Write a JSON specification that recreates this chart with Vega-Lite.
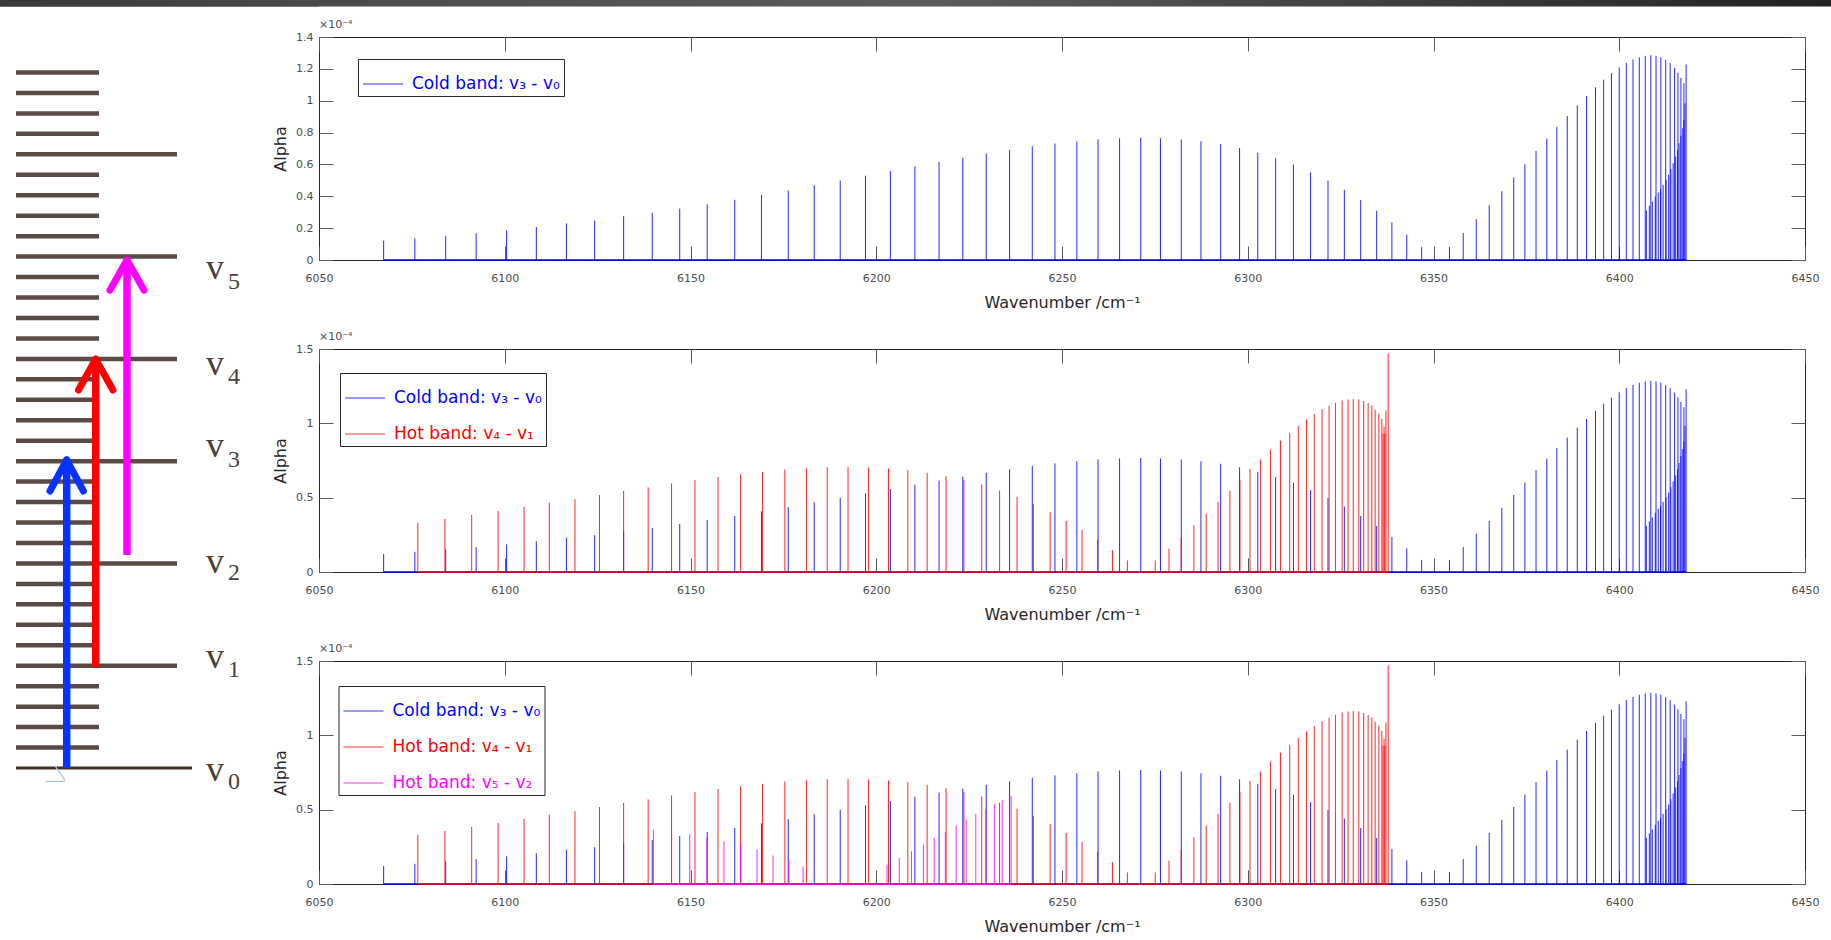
{
  "$schema": "https://vega.github.io/schema/vega-lite/v6.json",
  "padding": 0,
  "background": "white",
  "bounds": "flush",
  "spacing": 0,
  "config": {
    "view": {"stroke": "#262626", "strokeWidth": 1},
    "axis": {"grid": false, "domain": false, "tickSize": -14, "tickColor": "#5a5a5a", "tickWidth": 1, "labelFont": "DejaVu Sans", "labelFontSize": 11, "labelColor": "#4d4d4d", "labelFlush": false, "labelOverlap": false, "titleFont": "DejaVu Sans", "titleFontSize": 16, "titleFontWeight": "normal", "titleColor": "#262626"},
    "legend": {"symbolType": "stroke", "symbolSize": 1600, "symbolStrokeWidth": 1.2, "symbolOpacity": 0.8, "labelFont": "DejaVu Sans", "labelFontSize": 17, "labelOffset": 8, "labelLimit": 300, "padding": 4, "rowPadding": 7, "strokeColor": "#262626", "fillColor": "white"},
    "title": {"font": "DejaVu Sans", "fontSize": 11, "fontWeight": "normal", "color": "#4d4d4d", "anchor": "start", "frame": "group", "offset": 1}
  },
  "resolve": {"scale": {"color": "independent"}, "legend": {"color": "independent"}},
  "datasets": {
    "levels": [
      {"j": 0, "x1": 16, "x2": 192}, {"j": 1, "x1": 16, "x2": 99}, {"j": 2, "x1": 16, "x2": 99}, {"j": 3, "x1": 16, "x2": 99}, {"j": 4, "x1": 16, "x2": 99},
      {"j": 5, "x1": 16, "x2": 177}, {"j": 6, "x1": 16, "x2": 99}, {"j": 7, "x1": 16, "x2": 99}, {"j": 8, "x1": 16, "x2": 99}, {"j": 9, "x1": 16, "x2": 99},
      {"j": 10, "x1": 16, "x2": 177}, {"j": 11, "x1": 16, "x2": 99}, {"j": 12, "x1": 16, "x2": 99}, {"j": 13, "x1": 16, "x2": 99}, {"j": 14, "x1": 16, "x2": 99},
      {"j": 15, "x1": 16, "x2": 177}, {"j": 16, "x1": 16, "x2": 99}, {"j": 17, "x1": 16, "x2": 99}, {"j": 18, "x1": 16, "x2": 99}, {"j": 19, "x1": 16, "x2": 99},
      {"j": 20, "x1": 16, "x2": 177}, {"j": 21, "x1": 16, "x2": 99}, {"j": 22, "x1": 16, "x2": 99}, {"j": 23, "x1": 16, "x2": 99}, {"j": 24, "x1": 16, "x2": 99},
      {"j": 25, "x1": 16, "x2": 177}, {"j": 26, "x1": 16, "x2": 99}, {"j": 27, "x1": 16, "x2": 99}, {"j": 28, "x1": 16, "x2": 99}, {"j": 29, "x1": 16, "x2": 99},
      {"j": 30, "x1": 16, "x2": 177}, {"j": 31, "x1": 16, "x2": 99}, {"j": 32, "x1": 16, "x2": 99}, {"j": 33, "x1": 16, "x2": 99}, {"j": 34, "x1": 16, "x2": 99}
    ],
    "arrows": [
      {"t": "v3-v0", "x": 66.7, "from": 0, "to": 14.95},
      {"t": "v4-v1", "x": 95.7, "from": 4.93, "to": 19.9},
      {"t": "v5-v2", "x": 127, "from": 10.41, "to": 24.75}
    ],
    "heads": [
      {"t": "v3-v0", "x": 50, "y": 13.54, "x2": 66.7, "y2": 15.06},
      {"t": "v3-v0", "x": 83.4, "y": 13.54, "x2": 66.7, "y2": 15.06},
      {"t": "v4-v1", "x": 78.5, "y": 18.48, "x2": 95.7, "y2": 19.99},
      {"t": "v4-v1", "x": 112.9, "y": 18.48, "x2": 95.7, "y2": 19.99},
      {"t": "v5-v2", "x": 110, "y": 23.36, "x2": 127, "y2": 24.83},
      {"t": "v5-v2", "x": 144, "y": 23.36, "x2": 127, "y2": 24.83}
    ],
    "vlabels": [
      {"n": "5", "yv": 23.91, "ys": 23.42},
      {"n": "4", "yv": 19.21, "ys": 18.77},
      {"n": "3", "yv": 15.2, "ys": 14.71},
      {"n": "2", "yv": 9.53, "ys": 9.19},
      {"n": "1", "yv": 4.89, "ys": 4.45},
      {"n": "0", "yv": -0.64, "ys": -1.03}
    ],
    "marker": [
      {"x": 55, "y": 0.1, "x2": 65, "y2": -0.59},
      {"x": 45.7, "y": -0.66, "x2": 65, "y2": -0.66}
    ],
    "spans": [
      {"band": "cold", "from": 6067.4, "to": 6418.0},
      {"band": "hot41", "from": 6076.6, "to": 6337.8},
      {"band": "hot52", "from": 6140.0, "to": 6236.3}
    ],
    "sticks": [
      {"band": "cold", "wn": 6067.4, "alpha": 0.121}, {"band": "cold", "wn": 6075.8, "alpha": 0.136}, {"band": "cold", "wn": 6084.1, "alpha": 0.151}, {"band": "cold", "wn": 6092.3, "alpha": 0.167},
      {"band": "cold", "wn": 6100.5, "alpha": 0.186}, {"band": "cold", "wn": 6108.5, "alpha": 0.207}, {"band": "cold", "wn": 6116.6, "alpha": 0.23}, {"band": "cold", "wn": 6124.2, "alpha": 0.248},
      {"band": "cold", "wn": 6132.0, "alpha": 0.275}, {"band": "cold", "wn": 6139.7, "alpha": 0.297}, {"band": "cold", "wn": 6147.1, "alpha": 0.322}, {"band": "cold", "wn": 6154.5, "alpha": 0.35},
      {"band": "cold", "wn": 6161.9, "alpha": 0.378}, {"band": "cold", "wn": 6169.1, "alpha": 0.408}, {"band": "cold", "wn": 6176.3, "alpha": 0.437}, {"band": "cold", "wn": 6183.3, "alpha": 0.469},
      {"band": "cold", "wn": 6190.3, "alpha": 0.499}, {"band": "cold", "wn": 6197.1, "alpha": 0.529}, {"band": "cold", "wn": 6203.8, "alpha": 0.558}, {"band": "cold", "wn": 6210.4, "alpha": 0.587},
      {"band": "cold", "wn": 6216.9, "alpha": 0.615}, {"band": "cold", "wn": 6223.3, "alpha": 0.642}, {"band": "cold", "wn": 6229.6, "alpha": 0.668}, {"band": "cold", "wn": 6235.9, "alpha": 0.691},
      {"band": "cold", "wn": 6242.0, "alpha": 0.714}, {"band": "cold", "wn": 6248.1, "alpha": 0.731}, {"band": "cold", "wn": 6254.0, "alpha": 0.745}, {"band": "cold", "wn": 6259.7, "alpha": 0.757},
      {"band": "cold", "wn": 6265.5, "alpha": 0.764}, {"band": "cold", "wn": 6271.2, "alpha": 0.767}, {"band": "cold", "wn": 6276.5, "alpha": 0.764}, {"band": "cold", "wn": 6282.1, "alpha": 0.757},
      {"band": "cold", "wn": 6287.4, "alpha": 0.745}, {"band": "cold", "wn": 6292.7, "alpha": 0.728}, {"band": "cold", "wn": 6297.8, "alpha": 0.704}, {"band": "cold", "wn": 6302.7, "alpha": 0.674},
      {"band": "cold", "wn": 6307.5, "alpha": 0.639}, {"band": "cold", "wn": 6312.3, "alpha": 0.599}, {"band": "cold", "wn": 6316.9, "alpha": 0.55}, {"band": "cold", "wn": 6321.6, "alpha": 0.498},
      {"band": "cold", "wn": 6326.0, "alpha": 0.441}, {"band": "cold", "wn": 6330.4, "alpha": 0.376}, {"band": "cold", "wn": 6334.7, "alpha": 0.309}, {"band": "cold", "wn": 6338.8, "alpha": 0.236},
      {"band": "cold", "wn": 6342.8, "alpha": 0.159}, {"band": "cold", "wn": 6346.8, "alpha": 0.081}, {"band": "cold", "wn": 6354.3, "alpha": 0.081}, {"band": "cold", "wn": 6358.0, "alpha": 0.169},
      {"band": "cold", "wn": 6361.5, "alpha": 0.257}, {"band": "cold", "wn": 6365.0, "alpha": 0.344}, {"band": "cold", "wn": 6368.4, "alpha": 0.432}, {"band": "cold", "wn": 6371.6, "alpha": 0.518},
      {"band": "cold", "wn": 6374.6, "alpha": 0.601}, {"band": "cold", "wn": 6377.6, "alpha": 0.685}, {"band": "cold", "wn": 6380.5, "alpha": 0.762}, {"band": "cold", "wn": 6383.2, "alpha": 0.835},
      {"band": "cold", "wn": 6386.0, "alpha": 0.904}, {"band": "cold", "wn": 6388.7, "alpha": 0.971}, {"band": "cold", "wn": 6391.2, "alpha": 1.029}, {"band": "cold", "wn": 6393.6, "alpha": 1.084},
      {"band": "cold", "wn": 6395.8, "alpha": 1.132}, {"band": "cold", "wn": 6397.9, "alpha": 1.173}, {"band": "cold", "wn": 6400.0, "alpha": 1.209}, {"band": "cold", "wn": 6401.9, "alpha": 1.238},
      {"band": "cold", "wn": 6403.7, "alpha": 1.259}, {"band": "cold", "wn": 6405.4, "alpha": 1.273}, {"band": "cold", "wn": 6407.0, "alpha": 1.282}, {"band": "cold", "wn": 6408.5, "alpha": 1.286},
      {"band": "cold", "wn": 6409.9, "alpha": 1.282}, {"band": "cold", "wn": 6411.2, "alpha": 1.273}, {"band": "cold", "wn": 6412.5, "alpha": 1.257}, {"band": "cold", "wn": 6413.7, "alpha": 1.236},
      {"band": "cold", "wn": 6414.9, "alpha": 1.207}, {"band": "cold", "wn": 6415.8, "alpha": 1.175}, {"band": "cold", "wn": 6416.6, "alpha": 1.144}, {"band": "cold", "wn": 6417.4, "alpha": 1.109},
      {"band": "cold", "wn": 6418.0, "alpha": 1.228},
      {"band": "cold", "wn": 6407.3, "alpha": 0.311}, {"band": "cold", "wn": 6408.1, "alpha": 0.34}, {"band": "cold", "wn": 6408.9, "alpha": 0.367}, {"band": "cold", "wn": 6409.7, "alpha": 0.399},
      {"band": "cold", "wn": 6410.5, "alpha": 0.424}, {"band": "cold", "wn": 6411.1, "alpha": 0.445}, {"band": "cold", "wn": 6411.8, "alpha": 0.472}, {"band": "cold", "wn": 6412.6, "alpha": 0.503},
      {"band": "cold", "wn": 6413.3, "alpha": 0.534}, {"band": "cold", "wn": 6413.9, "alpha": 0.57}, {"band": "cold", "wn": 6414.5, "alpha": 0.608}, {"band": "cold", "wn": 6415.2, "alpha": 0.649},
      {"band": "cold", "wn": 6415.7, "alpha": 0.691}, {"band": "cold", "wn": 6416.1, "alpha": 0.733}, {"band": "cold", "wn": 6416.6, "alpha": 0.779}, {"band": "cold", "wn": 6417.1, "alpha": 0.827},
      {"band": "cold", "wn": 6417.4, "alpha": 0.879}, {"band": "cold", "wn": 6417.7, "alpha": 0.983},
      {"band": "hot41", "wn": 6076.6, "alpha": 0.333}, {"band": "hot41", "wn": 6083.9, "alpha": 0.357}, {"band": "hot41", "wn": 6091.1, "alpha": 0.384}, {"band": "hot41", "wn": 6098.2, "alpha": 0.411},
      {"band": "hot41", "wn": 6105.2, "alpha": 0.438}, {"band": "hot41", "wn": 6112.0, "alpha": 0.467}, {"band": "hot41", "wn": 6118.9, "alpha": 0.491}, {"band": "hot41", "wn": 6125.5, "alpha": 0.518},
      {"band": "hot41", "wn": 6132.0, "alpha": 0.545}, {"band": "hot41", "wn": 6138.6, "alpha": 0.57}, {"band": "hot41", "wn": 6144.9, "alpha": 0.596}, {"band": "hot41", "wn": 6151.2, "alpha": 0.618},
      {"band": "hot41", "wn": 6157.4, "alpha": 0.64}, {"band": "hot41", "wn": 6163.5, "alpha": 0.658}, {"band": "hot41", "wn": 6169.4, "alpha": 0.674}, {"band": "hot41", "wn": 6175.4, "alpha": 0.689},
      {"band": "hot41", "wn": 6181.2, "alpha": 0.697}, {"band": "hot41", "wn": 6186.8, "alpha": 0.705}, {"band": "hot41", "wn": 6192.4, "alpha": 0.705}, {"band": "hot41", "wn": 6197.9, "alpha": 0.703},
      {"band": "hot41", "wn": 6203.3, "alpha": 0.696}, {"band": "hot41", "wn": 6208.5, "alpha": 0.685}, {"band": "hot41", "wn": 6213.7, "alpha": 0.667}, {"band": "hot41", "wn": 6218.8, "alpha": 0.646},
      {"band": "hot41", "wn": 6223.6, "alpha": 0.618}, {"band": "hot41", "wn": 6228.4, "alpha": 0.588}, {"band": "hot41", "wn": 6233.2, "alpha": 0.547}, {"band": "hot41", "wn": 6237.9, "alpha": 0.507},
      {"band": "hot41", "wn": 6242.3, "alpha": 0.458}, {"band": "hot41", "wn": 6246.8, "alpha": 0.402}, {"band": "hot41", "wn": 6251.1, "alpha": 0.344}, {"band": "hot41", "wn": 6255.4, "alpha": 0.283},
      {"band": "hot41", "wn": 6259.6, "alpha": 0.217}, {"band": "hot41", "wn": 6263.6, "alpha": 0.147}, {"band": "hot41", "wn": 6267.6, "alpha": 0.078}, {"band": "hot41", "wn": 6275.1, "alpha": 0.078},
      {"band": "hot41", "wn": 6278.8, "alpha": 0.156}, {"band": "hot41", "wn": 6282.1, "alpha": 0.234}, {"band": "hot41", "wn": 6285.5, "alpha": 0.315}, {"band": "hot41", "wn": 6288.8, "alpha": 0.393},
      {"band": "hot41", "wn": 6292.0, "alpha": 0.471}, {"band": "hot41", "wn": 6295.2, "alpha": 0.547}, {"band": "hot41", "wn": 6297.9, "alpha": 0.621}, {"band": "hot41", "wn": 6300.6, "alpha": 0.694},
      {"band": "hot41", "wn": 6303.4, "alpha": 0.757}, {"band": "hot41", "wn": 6306.1, "alpha": 0.824}, {"band": "hot41", "wn": 6308.8, "alpha": 0.884}, {"band": "hot41", "wn": 6311.3, "alpha": 0.935},
      {"band": "hot41", "wn": 6313.6, "alpha": 0.982}, {"band": "hot41", "wn": 6315.8, "alpha": 1.027}, {"band": "hot41", "wn": 6317.9, "alpha": 1.063}, {"band": "hot41", "wn": 6320.0, "alpha": 1.094},
      {"band": "hot41", "wn": 6321.9, "alpha": 1.118}, {"band": "hot41", "wn": 6323.6, "alpha": 1.138}, {"band": "hot41", "wn": 6325.4, "alpha": 1.154}, {"band": "hot41", "wn": 6327.0, "alpha": 1.161},
      {"band": "hot41", "wn": 6328.4, "alpha": 1.163}, {"band": "hot41", "wn": 6329.9, "alpha": 1.161}, {"band": "hot41", "wn": 6331.2, "alpha": 1.15}, {"band": "hot41", "wn": 6332.4, "alpha": 1.136},
      {"band": "hot41", "wn": 6333.4, "alpha": 1.118}, {"band": "hot41", "wn": 6334.3, "alpha": 1.092}, {"band": "hot41", "wn": 6335.3, "alpha": 1.065}, {"band": "hot41", "wn": 6336.1, "alpha": 1.031},
      {"band": "hot41", "wn": 6336.7, "alpha": 0.975}, {"band": "hot41", "wn": 6336.4, "alpha": 0.93}, {"band": "hot41", "wn": 6336.9, "alpha": 0.93}, {"band": "hot41", "wn": 6337.2, "alpha": 1.087},
      {"band": "hot41", "wn": 6337.8, "alpha": 1.471},
      {"band": "hot52", "wn": 6140.0, "alpha": 0.367}, {"band": "hot52", "wn": 6144.9, "alpha": 0.355}, {"band": "hot52", "wn": 6149.8, "alpha": 0.333}, {"band": "hot52", "wn": 6154.4, "alpha": 0.311},
      {"band": "hot52", "wn": 6159.0, "alpha": 0.288}, {"band": "hot52", "wn": 6163.5, "alpha": 0.259}, {"band": "hot52", "wn": 6167.9, "alpha": 0.23}, {"band": "hot52", "wn": 6172.2, "alpha": 0.192},
      {"band": "hot52", "wn": 6176.5, "alpha": 0.158}, {"band": "hot52", "wn": 6180.3, "alpha": 0.118}, {"band": "hot52", "wn": 6202.9, "alpha": 0.131}, {"band": "hot52", "wn": 6206.2, "alpha": 0.176},
      {"band": "hot52", "wn": 6209.5, "alpha": 0.221}, {"band": "hot52", "wn": 6212.7, "alpha": 0.266}, {"band": "hot52", "wn": 6215.6, "alpha": 0.311}, {"band": "hot52", "wn": 6218.6, "alpha": 0.349},
      {"band": "hot52", "wn": 6221.5, "alpha": 0.394}, {"band": "hot52", "wn": 6224.2, "alpha": 0.432}, {"band": "hot52", "wn": 6226.8, "alpha": 0.472}, {"band": "hot52", "wn": 6229.5, "alpha": 0.506},
      {"band": "hot52", "wn": 6231.8, "alpha": 0.537}, {"band": "hot52", "wn": 6233.9, "alpha": 0.562}, {"band": "hot52", "wn": 6236.3, "alpha": 0.591}
    ]
  },
  "hconcat": [
    {
      "width": 319,
      "height": 940,
      "view": {"stroke": null},
      "layer": [
        {
          "data": {"values": [{}]},
          "mark": {"type": "rect", "color": {"gradient": "linear", "x1": 0, "y1": 0, "x2": 1, "y2": 0, "stops": [{"offset": 0, "color": "#383838"}, {"offset": 1, "color": "#4a4a4a"}]}},
          "encoding": {
            "x": {"datum": 0, "type": "quantitative", "scale": {"domain": [0, 319], "nice": false, "zero": false}, "axis": null},
            "x2": {"datum": 319},
            "y": {"datum": 37.544, "type": "quantitative", "scale": {"domain": [-8.408, 37.544], "nice": false, "zero": false}, "axis": null},
            "y2": {"datum": 37.22}
          }
        },
        {
          "data": {"name": "levels"},
          "transform": [{"filter": "datum.j > 0"}],
          "mark": {"type": "rule", "color": "#5b4a44", "strokeWidth": 4.5},
          "encoding": {
            "x": {"field": "x1", "type": "quantitative"},
            "x2": {"field": "x2"},
            "y": {"field": "j", "type": "quantitative"}
          }
        },
        {
          "data": {"name": "levels"},
          "transform": [{"filter": "datum.j == 0"}],
          "mark": {"type": "rule", "color": "#3f302a", "strokeWidth": 3},
          "encoding": {
            "x": {"field": "x1", "type": "quantitative"},
            "x2": {"field": "x2"},
            "y": {"field": "j", "type": "quantitative"}
          }
        },
        {
          "data": {"name": "arrows"},
          "mark": {"type": "rule", "strokeWidth": 7.5},
          "encoding": {
            "x": {"field": "x", "type": "quantitative"},
            "y": {"field": "from", "type": "quantitative"},
            "y2": {"field": "to"},
            "color": {"field": "t", "type": "nominal", "scale": {"domain": ["v3-v0", "v4-v1", "v5-v2"], "range": ["#0832ff", "#ff0000", "#ff00ff"]}, "legend": null}
          }
        },
        {
          "data": {"name": "heads"},
          "mark": {"type": "rule", "strokeWidth": 7, "strokeCap": "round"},
          "encoding": {
            "x": {"field": "x", "type": "quantitative"},
            "y": {"field": "y", "type": "quantitative"},
            "x2": {"field": "x2"},
            "y2": {"field": "y2"},
            "color": {"field": "t", "type": "nominal", "legend": null}
          }
        },
        {
          "data": {"name": "marker"},
          "mark": {"type": "rule", "strokeWidth": 1.2, "color": "#a6c2de"},
          "encoding": {
            "x": {"field": "x", "type": "quantitative"},
            "y": {"field": "y", "type": "quantitative"},
            "x2": {"field": "x2"},
            "y2": {"field": "y2"}
          }
        },
        {
          "data": {"name": "vlabels"},
          "mark": {"type": "text", "font": "Liberation Serif", "fontSize": 36, "align": "left", "baseline": "alphabetic", "color": "#4d403b"},
          "encoding": {
            "x": {"datum": 206, "type": "quantitative"},
            "y": {"field": "yv", "type": "quantitative"},
            "text": {"value": "v"}
          }
        },
        {
          "data": {"name": "vlabels"},
          "mark": {"type": "text", "font": "Liberation Serif", "fontSize": 24, "align": "left", "baseline": "alphabetic", "color": "#4d403b"},
          "encoding": {
            "x": {"datum": 228, "type": "quantitative"},
            "y": {"field": "ys", "type": "quantitative"},
            "text": {"field": "n"}
          }
        }
      ]
    },
    {
      "spacing": 0,
      "bounds": "flush",
      "resolve": {"scale": {"color": "independent"}, "legend": {"color": "independent"}},
      "vconcat": [
        {
          "width": 1486,
          "height": 36.7,
          "view": {"stroke": null},
          "data": {"values": [{}]},
          "mark": {"type": "rect", "color": {"gradient": "linear", "x1": 0, "y1": 0, "x2": 1, "y2": 0, "stops": [{"offset": 0, "color": "#4a4a4a"}, {"offset": 0.4, "color": "#5c5c5c"}, {"offset": 1, "color": "#232323"}]}},
          "encoding": {
            "x": {"datum": 0, "type": "quantitative", "scale": {"domain": [0, 1486], "nice": false, "zero": false}, "axis": null},
            "x2": {"datum": 1512},
            "y": {"datum": 0, "type": "quantitative", "scale": {"domain": [0, 36.7], "reverse": true, "nice": false, "zero": false}, "axis": null},
            "y2": {"datum": 6.6}
          }
        },
        {
          "spacing": 89,
          "bounds": "flush",
          "resolve": {"scale": {"color": "independent"}, "legend": {"color": "independent"}},
          "vconcat": [
            {
              "width": 1486,
              "height": 223,
              "title": {"text": "×10⁻⁴"},
              "resolve": {"axis": {"x": "independent", "y": "independent"}},
              "layer": [
                {
                  "data": {"name": "spans"},
                  "transform": [{"filter": "datum.band == 'cold'"}],
                  "mark": {"type": "rule", "strokeWidth": 1.5},
                  "encoding": {
                    "x": {"field": "from", "type": "quantitative", "scale": {"domain": [6050, 6450], "nice": false, "zero": false}, "axis": {"orient": "bottom", "values": [6050, 6100, 6150, 6200, 6250, 6300, 6350, 6400, 6450], "format": "d", "labelPadding": 26, "title": "Wavenumber /cm⁻¹", "titlePadding": 11}},
                    "x2": {"field": "to"},
                    "y": {"datum": 0, "type": "quantitative", "scale": {"domain": [0, 1.4], "nice": false, "zero": false}, "axis": {"orient": "left", "values": [0, 0.2, 0.4, 0.6, 0.8, 1, 1.2, 1.4], "format": "~g", "labelPadding": 20, "title": "Alpha", "titlePadding": 7}},
                    "color": {"field": "band", "type": "nominal", "scale": {"domain": ["cold"], "range": ["#0000ff"]}}
                  }
                },
                {
                  "data": {"name": "sticks"},
                  "transform": [{"filter": "datum.band == 'cold'"}],
                  "mark": {"type": "rule", "strokeWidth": 1, "opacity": 0.85},
                  "encoding": {
                    "x": {"field": "wn", "type": "quantitative", "axis": {"orient": "top", "values": [6050, 6100, 6150, 6200, 6250, 6300, 6350, 6400, 6450], "labels": false, "title": null}},
                    "y": {"field": "alpha", "type": "quantitative", "axis": {"orient": "right", "values": [0, 0.2, 0.4, 0.6, 0.8, 1, 1.2, 1.4], "labels": false, "title": null}},
                    "y2": {"datum": 0},
                    "color": {"field": "band", "type": "nominal", "legend": {"orient": "none", "legendX": 39, "legendY": 22, "title": null, "labelExpr": "datum.value == 'cold' ? 'Cold band: v₃ - v₀' : datum.value == 'hot41' ? 'Hot band: v₄ - v₁' : '\u00a0Hot band: v₅ - v₂'", "labelColor": {"expr": "datum.value == 'cold' ? '#0000ff' : datum.value == 'hot41' ? '#ff0000' : '#ff00ff'"}}}
                  }
                }
              ]
            },
            {
              "width": 1486,
              "height": 223,
              "title": {"text": "×10⁻⁴"},
              "resolve": {"axis": {"x": "independent", "y": "independent"}},
              "layer": [
                {
                  "data": {"name": "spans"},
                  "transform": [{"filter": "datum.band != 'hot52'"}],
                  "mark": {"type": "rule", "strokeWidth": 1.5},
                  "encoding": {
                    "x": {"field": "from", "type": "quantitative", "scale": {"domain": [6050, 6450], "nice": false, "zero": false}, "axis": {"orient": "bottom", "values": [6050, 6100, 6150, 6200, 6250, 6300, 6350, 6400, 6450], "format": "d", "labelPadding": 26, "title": "Wavenumber /cm⁻¹", "titlePadding": 11}},
                    "x2": {"field": "to"},
                    "y": {"datum": 0, "type": "quantitative", "scale": {"domain": [0, 1.5], "nice": false, "zero": false}, "axis": {"orient": "left", "values": [0, 0.5, 1, 1.5], "format": "~g", "labelPadding": 20, "title": "Alpha", "titlePadding": 7}},
                    "color": {"field": "band", "type": "nominal", "scale": {"domain": ["cold", "hot41"], "range": ["#0000ff", "#ff0000"]}}
                  }
                },
                {
                  "data": {"name": "sticks"},
                  "transform": [{"filter": "datum.band != 'hot52'"}],
                  "mark": {"type": "rule", "strokeWidth": 1, "opacity": 0.85},
                  "encoding": {
                    "x": {"field": "wn", "type": "quantitative", "axis": {"orient": "top", "values": [6050, 6100, 6150, 6200, 6250, 6300, 6350, 6400, 6450], "labels": false, "title": null}},
                    "y": {"field": "alpha", "type": "quantitative", "axis": {"orient": "right", "values": [0, 0.5, 1, 1.5], "labels": false, "title": null}},
                    "y2": {"datum": 0},
                    "color": {"field": "band", "type": "nominal", "legend": {"orient": "none", "legendX": 21, "legendY": 24, "title": null, "labelExpr": "datum.value == 'cold' ? 'Cold band: v₃ - v₀' : datum.value == 'hot41' ? 'Hot band: v₄ - v₁' : '\u00a0Hot band: v₅ - v₂'", "labelColor": {"expr": "datum.value == 'cold' ? '#0000ff' : datum.value == 'hot41' ? '#ff0000' : '#ff00ff'"}}}
                  }
                }
              ]
            },
            {
              "width": 1486,
              "height": 223,
              "title": {"text": "×10⁻⁴"},
              "resolve": {"axis": {"x": "independent", "y": "independent"}},
              "layer": [
                {
                  "data": {"name": "spans"},
                  "mark": {"type": "rule", "strokeWidth": 1.5},
                  "encoding": {
                    "x": {"field": "from", "type": "quantitative", "scale": {"domain": [6050, 6450], "nice": false, "zero": false}, "axis": {"orient": "bottom", "values": [6050, 6100, 6150, 6200, 6250, 6300, 6350, 6400, 6450], "format": "d", "labelPadding": 26, "title": "Wavenumber /cm⁻¹", "titlePadding": 11}},
                    "x2": {"field": "to"},
                    "y": {"datum": 0, "type": "quantitative", "scale": {"domain": [0, 1.5], "nice": false, "zero": false}, "axis": {"orient": "left", "values": [0, 0.5, 1, 1.5], "format": "~g", "labelPadding": 20, "title": "Alpha", "titlePadding": 7}},
                    "color": {"field": "band", "type": "nominal", "scale": {"domain": ["cold", "hot41", "hot52"], "range": ["#0000ff", "#ff0000", "#ff00ff"]}}
                  }
                },
                {
                  "data": {"name": "sticks"},
                  "mark": {"type": "rule", "strokeWidth": 1, "opacity": 0.85},
                  "encoding": {
                    "x": {"field": "wn", "type": "quantitative", "axis": {"orient": "top", "values": [6050, 6100, 6150, 6200, 6250, 6300, 6350, 6400, 6450], "labels": false, "title": null}},
                    "y": {"field": "alpha", "type": "quantitative", "axis": {"orient": "right", "values": [0, 0.5, 1, 1.5], "labels": false, "title": null}},
                    "y2": {"datum": 0},
                    "color": {"field": "band", "type": "nominal", "legend": {"orient": "none", "legendX": 19.5, "legendY": 25, "title": null, "labelExpr": "datum.value == 'cold' ? 'Cold band: v₃ - v₀' : datum.value == 'hot41' ? 'Hot band: v₄ - v₁' : '\u00a0Hot band: v₅ - v₂'", "labelColor": {"expr": "datum.value == 'cold' ? '#0000ff' : datum.value == 'hot41' ? '#ff0000' : '#ff00ff'"}}}
                  }
                }
              ]
            }
          ]
        }
      ]
    }
  ]
}
